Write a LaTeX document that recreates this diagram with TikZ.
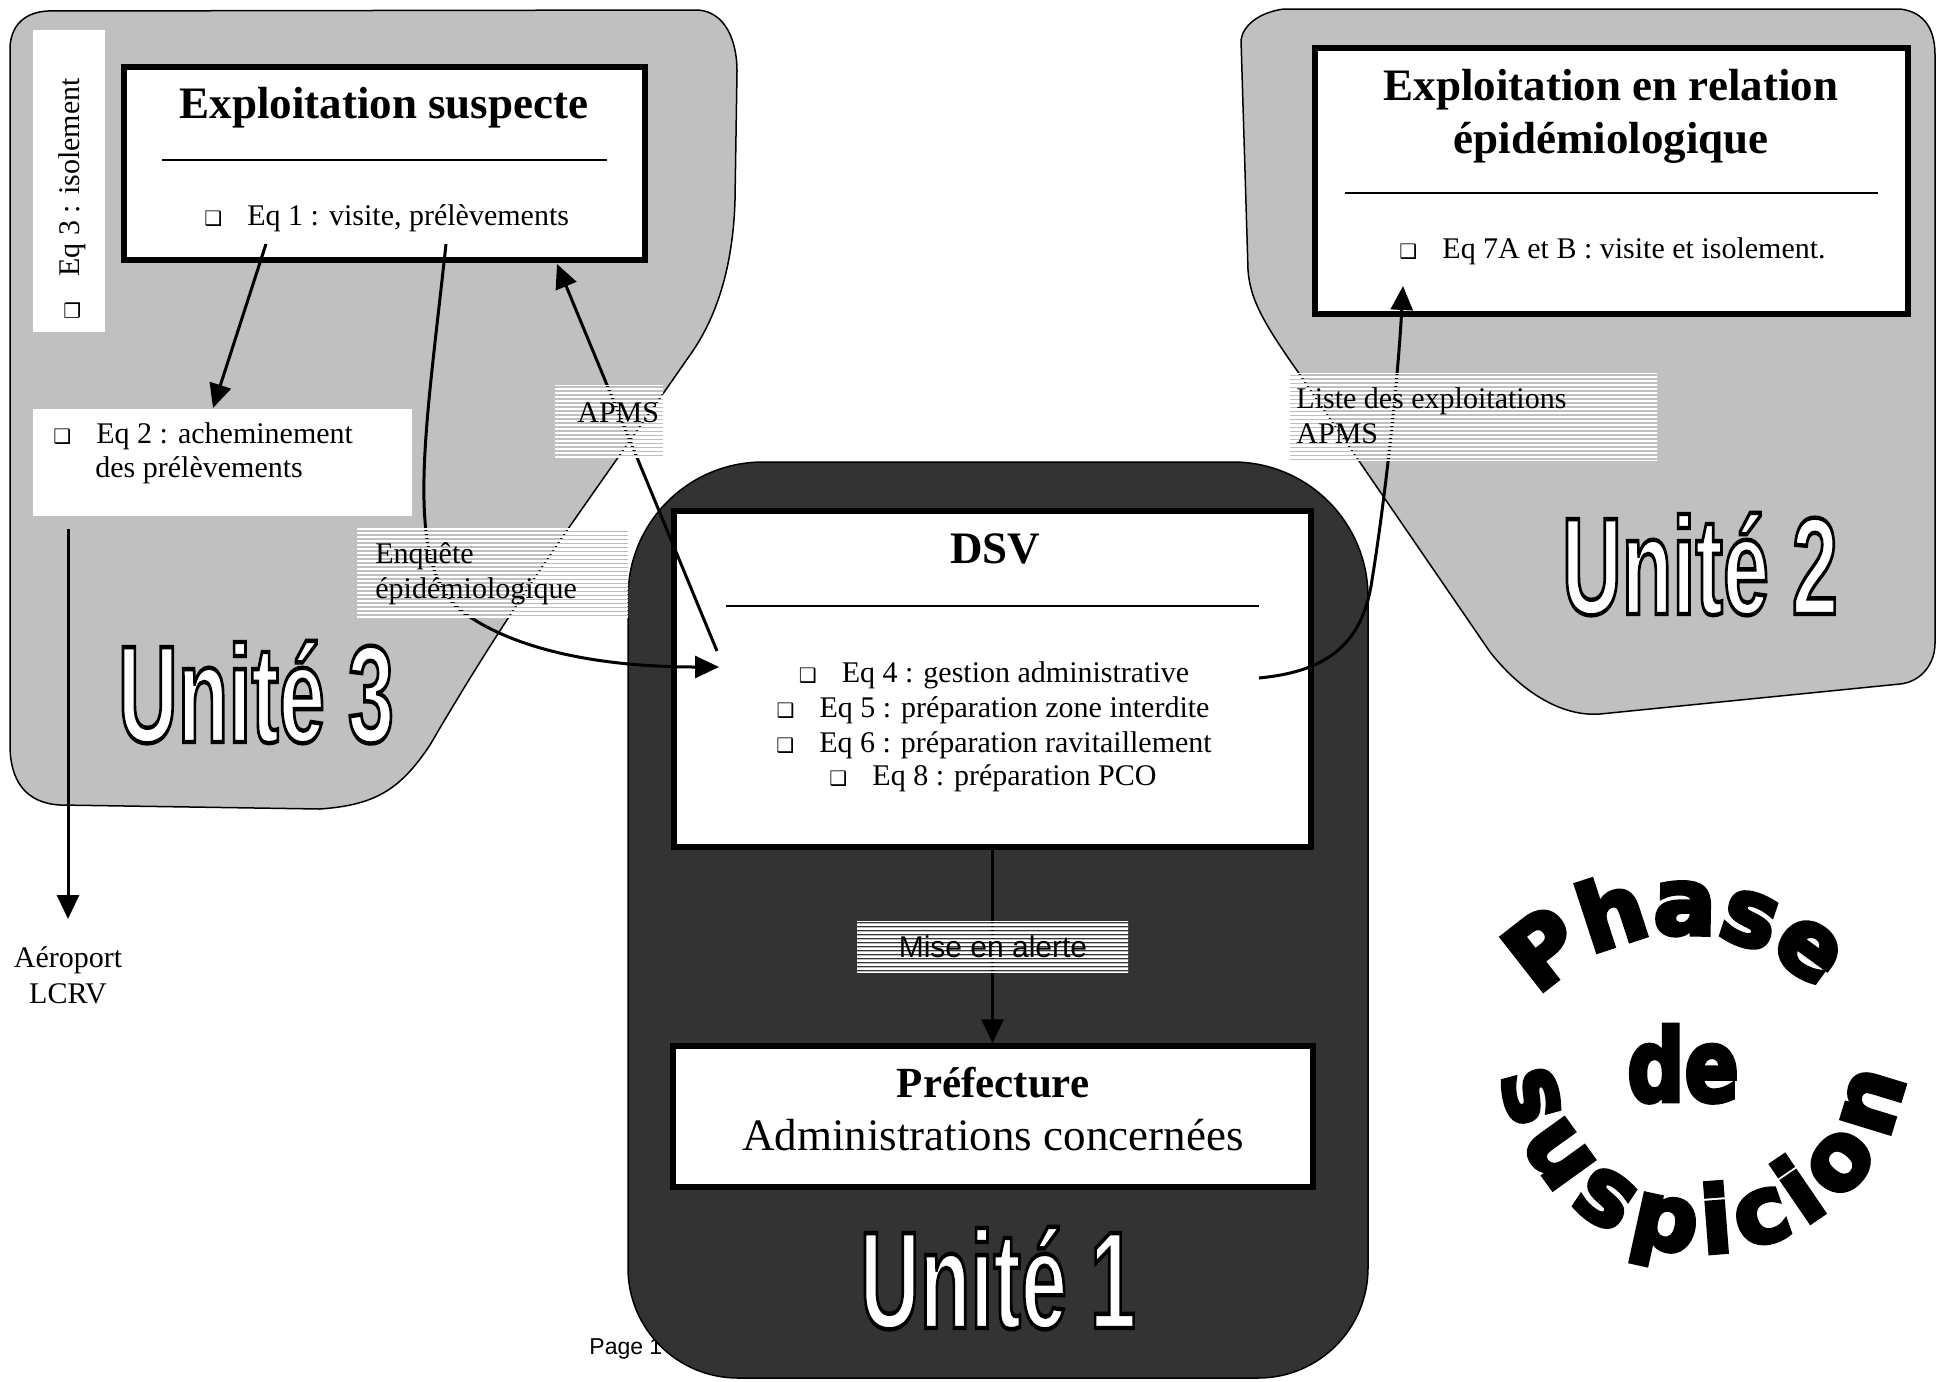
\documentclass[tikz,border=0pt]{standalone}
\usepackage{fontspec}
\usepackage{graphicx}
\setmainfont{Liberation Serif}
\newfontfamily\arialfont{Liberation Sans}
\newfontfamily\unitfont{Liberation Sans}
\newfontfamily\phasefont{DejaVu Sans}
\newfontfamily\symfont{DejaVu Sans}
\usetikzlibrary{arrows.meta, patterns.meta, fit, calc}

\definecolor{unitgray}{RGB}{192,192,192}
\definecolor{unitdark}{RGB}{51,51,51}

% raw PDF operators in the picture stream (text render mode etc.)
\makeatletter
\newcommand\pdfraw[1]{\pgfsys@invoke{#1}}
\makeatother

% hollow shadowed square used as list bullet
\newcommand\bul{{\symfont\fontsize{10}{10}\selectfont ❑}}
\newcommand\bulitem[1]{\makebox[21.5pt][l]{\bul}#1}
\newcommand\heavyon{\special{pdf:literal direct 2 Tr 2.4 w}}

\tikzset{
  unitshape/.style={draw=black, line width=0.75pt},
  bigbox/.style={draw=black, line width=2.75pt, fill=white, inner sep=0pt},
  whitebox/.style={fill=white, draw=none, inner sep=0pt},
  rulestyle/.style={line width=1pt},
  conn/.style={line width=1.5pt, -{Triangle[length=12pt,width=11pt]}},
  body/.style={font=\fontsize{15}{18}\selectfont, inner sep=0pt},
  titlestyle/.style={font=\bfseries\fontsize{22.5}{27}\selectfont, inner sep=0pt},
  stripes/.style={inner sep=0pt, draw=none,
    pattern={Lines[angle=0,distance=2pt,line width=1.5pt]}, pattern color=white,
    postaction={pattern={Lines[angle=0,distance=2pt,line width=0.2pt,yshift=1pt]}, pattern color=black!25}},
  unitname/.style={font=\unitfont\bfseries\fontsize{69}{69}\selectfont, anchor=base, inner sep=0pt},
  topletter/.style={font=\phasefont\bfseries\fontsize{46}{50}\selectfont, anchor=base, inner sep=0pt},
  botletter/.style={font=\phasefont\bfseries\fontsize{46}{50}\selectfont, anchor=base, inner sep=0pt},
}

% white lettering with a black outline (fill + stroke text render mode)
\newcommand\unitlabel[3]{%
  \node[unitname, text=white] (#1) at (#2)
    {\special{pdf:literal direct 2 Tr 2.2 w 0 G}\scalebox{0.6}[1]{#3}\special{pdf:literal direct 0 Tr}};
}

\begin{document}
\begin{tikzpicture}[x=0.5pt, y=-0.5pt]
\useasboundingbox (0,0) rectangle (1936,1381);
\fill[white] (0,0) rectangle (1936,1381);

% page footer, partly hidden by unit 1
\node[font=\arialfont\fontsize{11.5}{13}\selectfont, anchor=base west, inner sep=0pt] (pagenum) at (589,1354) {Page 1};

% ---- unit areas ----
\draw[unitshape, fill=unitgray] (10,46) .. controls (12,22) and (28,12) .. (48,11)
  -- (698,10) .. controls (725,12) and (737,40) .. (737,71)
  -- (735,200) .. controls (733,270) and (715,320) .. (690,355)
  .. controls (600,485) and (520,590) .. (430,745)
  .. controls (400,790) and (375,805) .. (320,809)
  -- (60,805) .. controls (25,803) and (10,780) .. (10,745) -- cycle;

\draw[unitshape, fill=unitgray] (1241,40) .. controls (1243,25) and (1260,12) .. (1284,9)
  -- (1900,9) .. controls (1925,12) and (1935,30) .. (1935,55)
  -- (1935,643) .. controls (1935,665) and (1920,682) .. (1900,684)
  -- (1600,714) .. controls (1560,717) and (1520,690) .. (1490,652)
  -- (1298,372) .. controls (1265,325) and (1250,300) .. (1248,270) -- cycle;

\draw[unitshape, fill=unitdark] (628,1268) arc[start angle=180, end angle=90, radius=110]
  -- (1258,1378) arc[start angle=90, end angle=0, radius=110]
  -- (1368,597) arc[start angle=0, end angle=-90, radius=135]
  -- (763,462) arc[start angle=-90, end angle=-180, radius=135] -- cycle;

% ---- boxes ----
\node[whitebox, fit={(33,30) (105,332)}] (eqthreebox) {};
\node[whitebox, fit={(33,409) (412,516)}] (eqtwobox) {};
\node[bigbox, fit={(124,67) (645,260)}] (susp) {};
\node[bigbox, fit={(1315,48) (1908,314)}] (rel) {};
\node[bigbox, fit={(674,511) (1311,847)}] (dsv) {};
\node[bigbox, fit={(673,1046) (1313,1187)}] (pref) {};

\draw[rulestyle] (162,160) -- (607,160);
\draw[rulestyle] (1345,193) -- (1878,193);
\draw[rulestyle] (726,606) -- (1259,606);

% ---- box texts ----
\node[body, rotate=90, anchor=base west] (eqthree) at (79,320) {\bulitem{Eq 3 : isolement}};
\node[titlestyle, anchor=base] (susptitle) at (384,118) {Exploitation suspecte};
\node[body, anchor=base west] (eqone) at (204,225) {\bulitem{Eq 1 : visite, prélèvements}};
\node[body, anchor=base west] (eqtwoA) at (53,443) {\bulitem{Eq 2 : acheminement}};
\node[body, anchor=base west] (eqtwoB) at (95,477) {des prélèvements};

\node[titlestyle, anchor=base] (reltitleA) at (1611,100) {Exploitation en relation};
\node[titlestyle, anchor=base] (reltitleB) at (1611,153) {épidémiologique};
\node[body, anchor=base west] (eqseven) at (1399,258) {\bulitem{Eq 7A et B : visite et isolement.}};

\node[titlestyle, anchor=base] (dsvtitle) at (995,563) {DSV};
\node[body, anchor=base] (eqfour) at (994,682) {\bulitem{Eq 4 : gestion administrative}};
\node[body, anchor=base] (eqfive) at (993,717) {\bulitem{Eq 5 : préparation zone interdite}};
\node[body, anchor=base] (eqsix) at (994,752) {\bulitem{Eq 6 : préparation ravitaillement}};
\node[body, anchor=base] (eqeight) at (993,785) {\bulitem{Eq 8 : préparation PCO}};

\node[font=\bfseries\fontsize{21.5}{26}\selectfont, anchor=base, inner sep=0pt] (preftitle) at (993,1097) {Préfecture};
\node[font=\fontsize{22.5}{27}\selectfont, anchor=base, inner sep=0pt] (prefsub) at (993,1150) {Administrations concernées};

\node[body, anchor=base] (aeroA) at (68,967) {Aéroport};
\node[body, anchor=base] (aeroB) at (68,1003) {LCRV};

% ---- connector end points ----
\coordinate (eqoneL) at (266,244);
\coordinate (eqoneR) at (446,244);
\coordinate (eqtwoTop) at (213,408);
\coordinate (eqtwoBot) at (68,529);
\coordinate (aeroTop) at (68,919);
\coordinate (dsvIn) at (719,667);
\coordinate (dsvUp) at (717,651);
\coordinate (suspBot) at (557,264);
\coordinate (dsvOut) at (1259,678);
\coordinate (relIn) at (1403,286);

% ---- connectors ----
\draw[conn] (eqoneL) -- (eqtwoTop);
\draw[conn] (eqtwoBot) -- (aeroTop);
\draw[conn] (eqoneR) .. controls (425,440) and (400,575) .. (470,617)
  .. controls (520,650) and (600,667) .. (dsvIn);
\draw[conn] (dsvUp) -- (suspBot);
\draw[conn] (dsvOut) .. controls (1320,672) and (1362,650) .. (1372,580)
  .. controls (1385,500) and (1398,380) .. (relIn);
\draw[conn] (dsv.south) -- (dsv.south |- pref.north);

% ---- connector labels ----
\node[stripes, fit={(555,385) (663,457)}] (apmslab) {};
\node[body, anchor=base west] (apmstext) at (577,422) {APMS};
\node[stripes, fit={(357,528) (628,617)}] (enqlab) {};
\node[body, anchor=base west] (enqA) at (375,563) {Enquête};
\node[body, anchor=base west] (enqB) at (375,598) {épidémiologique};
\node[stripes, fit={(1290,373) (1657,460)}] (listlab) {};
\node[body, anchor=base west] (listA) at (1296,408) {Liste des exploitations};
\node[body, anchor=base west] (listB) at (1296,443) {APMS};
\node[stripes, fit={(857,921) (1128,972)}] (alertlab) {};
\node[font=\arialfont\fontsize{15}{18}\selectfont, anchor=base, inner sep=0pt] (alerttext) at (993,957) {Mise en alerte};

% ---- unit names ----
\unitlabel{unitthree}{256,742}{Unité 3}
\unitlabel{unittwo}{1700,614}{Unité 2}
\unitlabel{unitone}{998,1328}{Unité 1}

% ---- phase title: heavy letters set round a circle ----
\begin{scope}[shift={(1681,1125)}, x=0.5pt, y=0.5pt]
  \pdfraw{2 Tr 2.4 w}
  \foreach \ch/\ang [count=\k] in {P/128.0, h/108.1, a/89.0, s/71.5, e/54.0}
    \node[topletter, rotate=\ang-90] (phase-\k) at (\ang:191) {\ch};
\end{scope}
\node[font=\phasefont\bfseries\fontsize{50}{54}\selectfont, anchor=base, inner sep=0pt] (phasede) at (1683,1101) {\heavyon\scalebox{0.8}[1]{de}};
\begin{scope}[shift={(1703,1050)}, x=0.5pt, y=0.5pt]
  \pdfraw{2 Tr 2.2 w}
  \foreach \ch/\ang [count=\k] in {s/195.0, u/215.8, s/236.7, p/257.6, i/274.4, c/289.4, i/304.3, o/320.7, n/343.0}
    \node[botletter, rotate=\ang+90] (suspicion-\k) at (\ang:203) {\ch};
\end{scope}
\end{tikzpicture}
\end{document}
